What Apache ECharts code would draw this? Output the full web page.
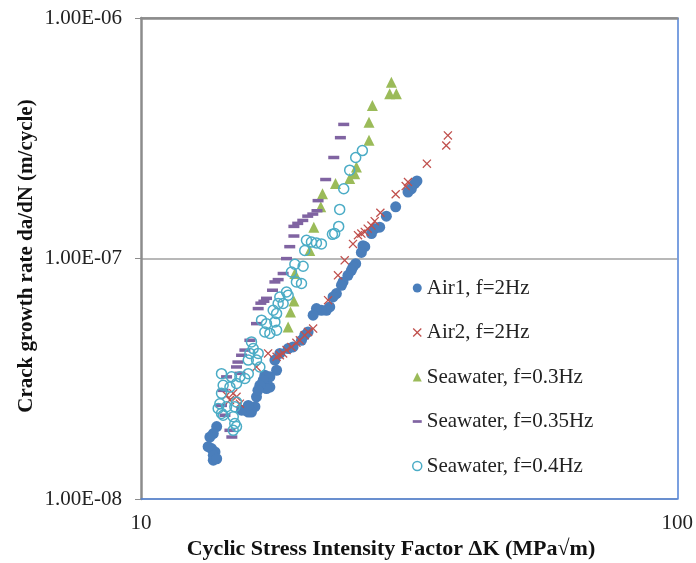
<!DOCTYPE html>
<html>
<head>
<meta charset="utf-8">
<script src="https://cdn.jsdelivr.net/npm/echarts@6/dist/echarts.min.js"></script>
<style>
html,body{margin:0;padding:0;background:#fff;}
#chart{width:696px;height:563px;}
</style>
</head>
<body>
<div id="chart"></div>
<script>
// ---- data (ΔK in MPa√m, da/dN in m/cycle) ----
const seriesNames = ['Air1, f=2Hz', 'Air2, f=2Hz', 'Seawater, f=0.3Hz', 'Seawater, f=0.35Hz', 'Seawater, f=0.4Hz'];

const air1K = [32.70,32.38,31.93,31.47,29.85,28.68,27.87,27.28,26.90,26.14,25.94,25.76,25.14,24.85,24.68,24.32,23.81,23.65,23.14,22.81,22.49,22.17,21.70,21.24,20.94,20.49,20.20,19.92,19.21,18.81,18.15,17.77,17.90,17.39,17.02,16.90,17.39,17.14,16.42,16.31,16.07,15.85,15.62,15.40,15.85,13.84,13.64,13.44,13.54,13.74,13.64,13.34,13.64,13.84,16.66,16.52];
const air1Rate = [2.10e-7,2.05e-7,1.95e-7,1.89e-7,1.64e-7,1.50e-7,1.35e-7,1.33e-7,1.27e-7,1.12e-7,1.13e-7,1.06e-7,9.52e-8,9.22e-8,8.93e-8,8.51e-8,7.99e-8,7.74e-8,7.15e-8,6.92e-8,6.29e-8,6.09e-8,6.09e-8,6.19e-8,5.81e-8,4.95e-8,4.80e-8,4.57e-8,4.29e-8,4.22e-8,4.03e-8,3.78e-8,3.43e-8,3.22e-8,3.27e-8,3.12e-8,2.92e-8,2.88e-8,2.66e-8,2.42e-8,2.30e-8,2.30e-8,2.34e-8,2.34e-8,2.45e-8,2.00e-8,1.87e-8,1.81e-8,1.62e-8,1.57e-8,1.45e-8,1.65e-8,1.52e-8,1.47e-8,2.97e-8,2.83e-8];

const air2K = [37.35,37.09,34.13,31.47,31.16,29.85,27.95,27.28,26.90,26.47,26.14,25.76,25.39,24.85,23.98,23.30,22.33,20.94,20.49,20.20,19.78,19.49,19.08,18.68,18.41,18.15,17.90,17.26,16.42,15.29,15.07,14.86,14.44,14.65];
const air2Rate = [3.25e-7,2.95e-7,2.48e-7,2.08e-7,2.00e-7,1.85e-7,1.55e-7,1.43e-7,1.37e-7,1.33e-7,1.29e-7,1.27e-7,1.25e-7,1.15e-7,9.83e-8,8.51e-8,6.71e-8,5.11e-8,4.95e-8,4.80e-8,4.57e-8,4.46e-8,4.29e-8,4.16e-8,4.03e-8,3.96e-8,3.90e-8,4.03e-8,3.54e-8,2.49e-8,2.66e-8,2.75e-8,2.70e-8,2.58e-8];

const sw03K = [29.30,29.09,29.94,27.01,26.62,26.62,25.22,25.03,24.50,23.05,21.80,21.64,21.00,20.64,19.36,19.28,19.00,18.81];
const sw03Rate = [5.41e-7,4.84e-7,4.84e-7,4.33e-7,3.69e-7,3.10e-7,2.40e-7,2.25e-7,2.15e-7,2.05e-7,1.86e-7,1.64e-7,1.35e-7,1.08e-7,8.66e-8,6.66e-8,5.99e-8,5.19e-8];

const sw035K = [23.88,23.54,22.88,22.10,21.39,21.29,20.91,20.46,20.03,19.60,19.28,19.28,18.94,18.68,18.41,18.02,17.77,17.59,17.14,16.95,16.73,16.54,16.42,15.96,15.62,15.40,15.16,15.07,15.29,14.44,14.23,14.13,14.34,14.65,14.77];
const sw035Rate = [3.61e-7,3.18e-7,2.63e-7,2.13e-7,1.74e-7,1.58e-7,1.53e-7,1.50e-7,1.44e-7,1.40e-7,1.36e-7,1.24e-7,1.12e-7,9.99e-8,8.66e-8,8.17e-8,7.99e-8,7.38e-8,6.83e-8,6.64e-8,6.52e-8,6.19e-8,5.36e-8,4.57e-8,4.16e-8,3.96e-8,3.71e-8,3.54e-8,3.33e-8,3.22e-8,2.83e-8,2.45e-8,2.23e-8,1.93e-8,1.81e-8];

const sw04K = [25.87,25.14,24.50,23.88,23.47,23.37,22.97,22.75,21.70,21.24,20.79,20.35,20.20,20.06,19.36,19.08,19.49,19.92,18.68,18.81,18.15,18.02,18.41,17.64,17.90,16.78,17.14,17.77,17.90,17.02,17.39,16.07,16.19,15.96,16.54,16.42,16.66,15.85,15.29,15.62,15.07,14.23,14.65,14.13,14.03,14.44,14.96,14.23,14.86,14.96,14.86,13.93,14.13,14.75,15.85,15.07,14.13,15.07];
const sw04Rate = [2.81e-7,2.63e-7,2.33e-7,1.95e-7,1.60e-7,1.36e-7,1.27e-7,1.26e-7,1.15e-7,1.16e-7,1.17e-7,1.19e-7,1.08e-7,9.28e-8,9.46e-8,8.79e-8,7.99e-8,7.87e-8,7.26e-8,7.03e-8,6.92e-8,6.50e-8,6.50e-8,6.09e-8,5.90e-8,5.54e-8,5.36e-8,5.45e-8,5.03e-8,4.95e-8,4.88e-8,4.50e-8,4.22e-8,4.03e-8,4.03e-8,3.78e-8,3.54e-8,3.78e-8,3.22e-8,3.17e-8,3.02e-8,2.97e-8,2.92e-8,2.75e-8,2.49e-8,2.42e-8,2.42e-8,2.23e-8,2.20e-8,2.06e-8,1.93e-8,2.38e-8,3.32e-8,3.22e-8,3.32e-8,2.53e-8,2.27e-8,2.00e-8];

const xMin = 10, xMax = 100;
const yMin = 1e-8, yMax = 1e-6;

// ---- helpers ----
function pairs(xs, ys) {
  const n = Math.min(xs.length, ys.length);
  const out = [];
  for (let i = 0; i < n; i++) out.push([xs[i], ys[i]]);
  return out;
}
function sci(v) {
  const e = Math.floor(Math.log10(v) + 1e-6);
  const m = v / Math.pow(10, e);
  return m.toFixed(2) + 'E' + (e < 0 ? '-' : '+') + String(Math.abs(e)).padStart(2, '0');
}

const serif = '"Liberation Serif", "Times New Roman", serif';
const cBlue = '#4A7EBB', cRed = '#C0504D', cGreen = '#9BBB59', cPurple = '#8064A2', cCyan = '#4BACC6';
const crossPath = 'path://M0,1L1,0L5,4L9,0L10,1L6,5L10,9L9,10L5,6L1,10L0,9L4,5Z';
const dashPath = 'path://M0,0L10,0L10,3L0,3Z';

const chart = echarts.init(document.getElementById('chart'), null, {renderer: 'canvas'});
chart.setOption({
  backgroundColor: '#ffffff',
  animation: false,
  grid: {left: 141, right: 18, top: 18, bottom: 64, show: false},
  xAxis: [{
    type: 'log', logBase: 10, min: xMin, max: xMax, position: 'bottom',
    axisLine: {show: true, lineStyle: {color: '#4F81D6', width: 1.5}},
    axisTick: {show: false}, minorTick: {show: false},
    splitLine: {show: false},
    axisLabel: {color: '#222', fontFamily: serif, fontSize: 21, margin: 14}
  }, {
    type: 'log', logBase: 10, min: xMin, max: xMax, position: 'top',
    axisLine: {show: true, lineStyle: {color: '#8C8C8C', width: 2.5}},
    axisTick: {show: false}, axisLabel: {show: false}, splitLine: {show: false}
  }],
  yAxis: [{
    type: 'log', logBase: 10, min: yMin, max: yMax, position: 'left',
    axisLine: {show: true, lineStyle: {color: '#8C8C8C', width: 2.5}},
    axisTick: {show: true, length: 6, lineStyle: {color: '#8C8C8C', width: 1}},
    minorTick: {show: false},
    splitLine: {show: true, lineStyle: {color: '#A0A0A0', width: 1.5}},
    axisLabel: {color: '#222', fontFamily: serif, fontSize: 21, margin: 19, formatter: sci}
  }, {
    type: 'log', logBase: 10, min: yMin, max: yMax, position: 'right',
    axisLine: {show: true, lineStyle: {color: '#4F81D6', width: 1.5}},
    axisTick: {show: false}, axisLabel: {show: false}, splitLine: {show: false}
  }],
  legend: {
    orient: 'vertical', left: 412, top: 276, padding: 0,
    itemWidth: 9, itemHeight: 9, itemGap: 20.5,
    textStyle: {fontFamily: serif, fontSize: 21, color: '#222', lineHeight: 24},
    data: [
      {name: seriesNames[0], icon: 'circle'},
      {name: seriesNames[1], icon: crossPath},
      {name: seriesNames[2], icon: 'triangle'},
      {name: seriesNames[3], icon: dashPath},
      {name: seriesNames[4], icon: 'circle', itemStyle: {color: 'rgba(0,0,0,0)', borderColor: cCyan, borderWidth: 1.5}}
    ]
  },
  graphic: [{
    type: 'text', x: 391, y: 549,
    style: {text: 'Cyclic Stress Intensity Factor \u0394K (MPa\u221Am)', font: 'bold 22px ' + serif, fill: '#111', align: 'center', verticalAlign: 'middle'}
  }, {
    type: 'text', x: 27, y: 256, rotation: Math.PI / 2,
    style: {text: 'Crack growth rate da/dN (m/cycle)', font: 'bold 21px ' + serif, fill: '#111', align: 'center', verticalAlign: 'middle'}
  }],
  series: [{
    name: seriesNames[0], type: 'scatter', symbol: 'circle', symbolSize: 11,
    itemStyle: {color: cBlue, opacity: 1}, data: pairs(air1K, air1Rate)
  }, {
    name: seriesNames[1], type: 'scatter', symbol: crossPath, symbolSize: 9,
    itemStyle: {color: cRed, opacity: 1}, data: pairs(air2K, air2Rate)
  }, {
    name: seriesNames[2], type: 'scatter', symbol: 'triangle', symbolSize: 11,
    itemStyle: {color: cGreen, opacity: 1}, data: pairs(sw03K, sw03Rate)
  }, {
    name: seriesNames[3], type: 'scatter', symbol: 'rect', symbolSize: [11, 3.5],
    itemStyle: {color: cPurple, opacity: 1}, data: pairs(sw035K, sw035Rate)
  }, {
    name: seriesNames[4], type: 'scatter', symbol: 'circle', symbolSize: 10,
    itemStyle: {color: 'rgba(0,0,0,0)', borderColor: cCyan, borderWidth: 1.5, opacity: 1},
    data: pairs(sw04K, sw04Rate)
  }]
});
</script>
</body>
</html>
